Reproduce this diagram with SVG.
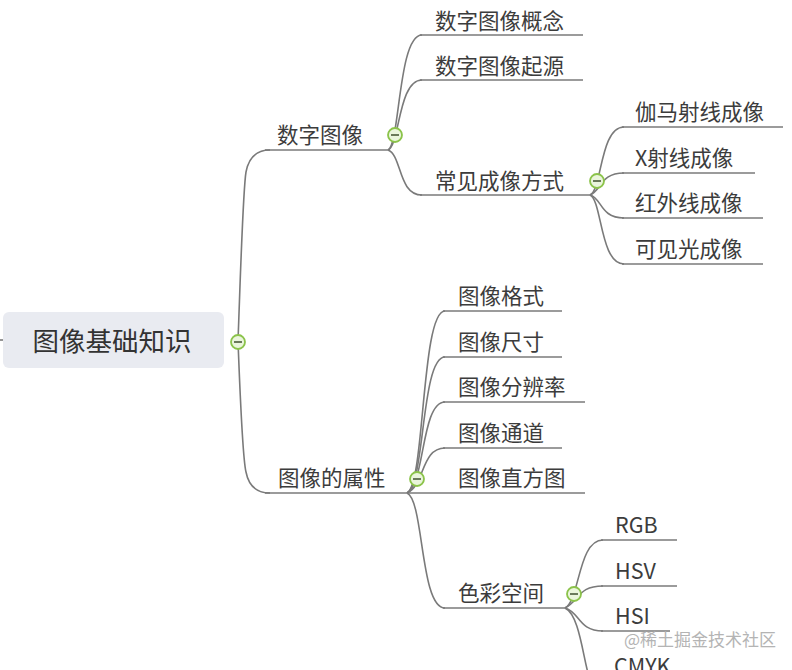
<svg xmlns="http://www.w3.org/2000/svg" width="792" height="670" viewBox="0 0 792 670">
<style>
.t{font-family:"Noto Sans CJK SC","Noto Sans",sans-serif;font-size:21.5px;fill:#3c3c3c}
.r{font-family:"Noto Sans CJK SC","Noto Sans",sans-serif;font-size:26.5px;fill:#333}
.c{fill:none;stroke:#7a7a7a;stroke-width:1.6}
.u{stroke:#7a7a7a;stroke-width:1.6}
.k circle{fill:#eaf5dc;stroke:#8bc34a;stroke-width:1.8}
.k line{stroke:#4a5a3a;stroke-width:1.6}
.w{font-family:"Noto Sans CJK SC","Noto Sans",sans-serif;font-size:17px;fill:#b4b4b4}
</style>
<rect width="792" height="670" fill="#fff"/>
<g id="connectors">
<line class="u" x1="0" y1="340" x2="6" y2="340"/>
<path class="c" d="M238,341 C241,260 243,190 246,172 Q250,150 270,150"/>
<path class="c" d="M238,341 C241,420 243,460 246,472 Q250,493 270,493"/>
<path class="c" d="M388,150 C400,145 398,35 422,35"/>
<path class="c" d="M388,150 C400,145 398,80 422,80"/>
<path class="c" d="M388,150 C402,155 398,195 422,195"/>
<path class="c" d="M590,195 C602,190 600,127 624,127"/>
<path class="c" d="M590,195 C602,190 600,173 624,173"/>
<path class="c" d="M590,195 C602,198 600,218 624,218"/>
<path class="c" d="M590,195 C602,200 600,264 624,264"/>
<path class="c" d="M407,493 C425,485 421,311 445,311"/>
<path class="c" d="M407,493 C425,485 421,357 445,357"/>
<path class="c" d="M407,493 C425,485 421,402 445,402"/>
<path class="c" d="M407,493 C425,485 421,448 445,448"/>
<path class="c" d="M407,493 C424,500 420,608 445,608"/>
<path class="c" d="M565,608 C580,600 578,540 603,540"/>
<path class="c" d="M565,608 C580,600 578,586 603,586"/>
<path class="c" d="M565,608 C580,612 578,631 603,631"/>
<path class="c" d="M565,608 C580,615 583,660 590,680"/>
</g>
<g id="root">
<rect x="3" y="312" width="221" height="56" rx="6" fill="#e9ebf1"/>
<text class="r" x="112" y="351" text-anchor="middle">图像基础知识</text>
</g>
<g id="n1"><line class="u" x1="265" y1="150" x2="388" y2="150"/><text class="t" x="277" y="143">数字图像</text></g>
<g id="n1a"><line class="u" x1="420" y1="35" x2="583" y2="35"/><text class="t" x="435" y="29">数字图像概念</text></g>
<g id="n1b"><line class="u" x1="420" y1="80" x2="583" y2="80"/><text class="t" x="435" y="74">数字图像起源</text></g>
<g id="n1c"><line class="u" x1="420" y1="195" x2="590" y2="195"/><text class="t" x="435" y="189">常见成像方式</text></g>
<g id="n1c1"><line class="u" x1="622" y1="127" x2="783" y2="127"/><text class="t" x="635" y="120">伽马射线成像</text></g>
<g id="n1c2"><line class="u" x1="622" y1="173" x2="755" y2="173"/><text class="t" x="635" y="166">X射线成像</text></g>
<g id="n1c3"><line class="u" x1="622" y1="218" x2="763" y2="218"/><text class="t" x="635" y="211">红外线成像</text></g>
<g id="n1c4"><line class="u" x1="622" y1="264" x2="763" y2="264"/><text class="t" x="635" y="257">可见光成像</text></g>
<g id="n2"><line class="u" x1="265" y1="493" x2="407" y2="493"/><text class="t" x="278" y="486">图像的属性</text></g>
<g id="n2a"><line class="u" x1="443" y1="311" x2="562" y2="311"/><text class="t" x="458" y="304">图像格式</text></g>
<g id="n2b"><line class="u" x1="443" y1="357" x2="562" y2="357"/><text class="t" x="458" y="350">图像尺寸</text></g>
<g id="n2c"><line class="u" x1="443" y1="402" x2="585" y2="402"/><text class="t" x="458" y="395">图像分辨率</text></g>
<g id="n2d"><line class="u" x1="443" y1="448" x2="562" y2="448"/><text class="t" x="458" y="441">图像通道</text></g>
<g id="n2e"><line class="u" x1="407" y1="493" x2="585" y2="493"/><text class="t" x="458" y="486">图像直方图</text></g>
<g id="n2f"><line class="u" x1="443" y1="608" x2="565" y2="608"/><text class="t" x="458" y="601">色彩空间</text></g>
<g id="n2f1"><line class="u" x1="601" y1="540" x2="677" y2="540"/><text class="t" x="615" y="533">RGB</text></g>
<g id="n2f2"><line class="u" x1="601" y1="586" x2="677" y2="586"/><text class="t" x="615" y="579">HSV</text></g>
<g id="n2f3"><line class="u" x1="601" y1="631" x2="670" y2="631"/><text class="t" x="615" y="624">HSI</text></g>
<g id="n2f4"><text class="t" x="614" y="674">CMYK</text></g>
<g class="k" id="toggles">
<g><circle cx="238" cy="342" r="7"/><line x1="234" y1="342" x2="242" y2="342"/></g>
<g><circle cx="395" cy="135" r="7"/><line x1="391" y1="135" x2="399" y2="135"/></g>
<g><circle cx="597" cy="181" r="7"/><line x1="593" y1="181" x2="601" y2="181"/></g>
<g><circle cx="417" cy="479" r="7"/><line x1="413" y1="479" x2="421" y2="479"/></g>
<g><circle cx="574" cy="594" r="7"/><line x1="570" y1="594" x2="578" y2="594"/></g>
</g>
<text class="w" x="624" y="646">@稀土掘金技术社区</text>
</svg>
